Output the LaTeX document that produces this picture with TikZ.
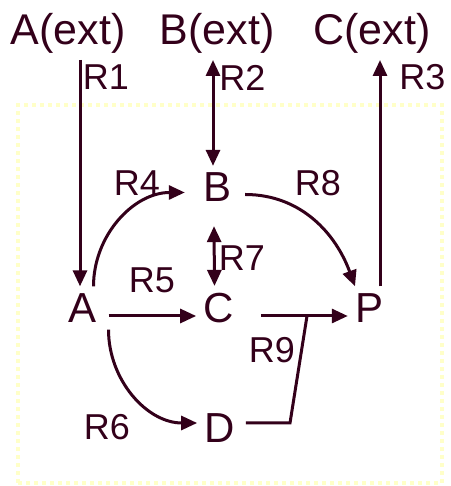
\documentclass[tikz,border=0pt]{standalone}
\usepackage{fontspec}
\setmainfont{Liberation Sans}
\usepackage{xcolor}
\usetikzlibrary{arrows.meta,positioning}

\definecolor{ink}{RGB}{51,0,26}
\definecolor{boxyellow}{RGB}{255,255,200}

\begin{document}
\begin{tikzpicture}[x=1pt,y=1pt,
    species/.style={text=ink,inner sep=7pt,font=\fontsize{42}{48}\selectfont},
    extname/.style={text=ink,anchor=base,font=\fontsize{43}{50}\selectfont},
    rname/.style={text=ink,inner sep=0pt,font=\fontsize{36}{42}\selectfont},
    flow/.style={draw=ink,line width=3pt,-{Triangle[length=16pt,width=14pt]}},
    twoway/.style={draw=ink,line width=3pt,{Triangle[length=16pt,width=14pt]}-{Triangle[length=16pt,width=14pt]}}]
    \useasboundingbox (0,0) rectangle (450,486);

    % Compartment
    \draw[boxyellow,line width=4pt,dash pattern=on 4pt off 4pt] (18,3) rectangle (442,381);

    % External species
    \node[extname] (Aext) at (68,441) {A(ext)};
    \node[extname] (Bext) at (217,441) {B(ext)};
    \node[extname] (Cext) at (372,441) {C(ext)};

    % Internal species
    \node[species] (A) at (82.5,178) {A};
    \node[species] (B) at (218,298.5) {B};
    \node[species] (C) at (218.5,178) {C};
    \node[species] (P) at (369,178) {P};
    \node[species] (D) at (219.5,58) {D};

    % Reaction labels
    \foreach \n/\x/\y in {1/106/408.5,2/242.5/408.5,3/422.5/408.5,4/137/303,
                          5/152/206,6/107/59,7/242/227.5,8/318/303,9/272/136} {
        \node[rname] (R\n) at (\x,\y) {R\n};
    }

    % Transport
    \coordinate (r1) at (80,426);
    \coordinate (r2) at (213,426);
    \coordinate (r3) at (380,426);
    \draw[flow] (r1) -- (r1 |- A.north);
    \draw[twoway] (r2) -- (r2 |- B.north);
    \draw[flow] (r3 |- P.north) -- (r3);

    % Reactions
    \draw[flow] ([xshift=11pt]A.north) to[out=90,in=180] ([shift={(-12pt,-5pt)}]B.west);
    \draw[flow] ([shift={(5pt,-8pt)}]A.east) -- ([yshift=-8pt]C.west);
    \draw[flow] ([xshift=26pt]A.south) to[out=-90,in=180] ([yshift=5pt]D.west);
    \draw[twoway] ([shift={(-4pt,-17pt)}]B.south) -- ([xshift=-4pt]C.north);
    \draw[flow] ([shift={(6pt,-7pt)}]B.east) to[out=0,in=110] ([xshift=-14pt]P.north);
    \draw[flow] ([shift={(20pt,-8pt)}]C.east) -- ([yshift=-8pt]P.west);

    % R9 joins D into C -> P
    \coordinate (k9) at (290,63);
    \coordinate (m9) at (307,170);
    \draw[draw=ink,line width=3pt] ([shift={(4pt,5pt)}]D.east) -- (k9) -- (m9);
\end{tikzpicture}
\end{document}
